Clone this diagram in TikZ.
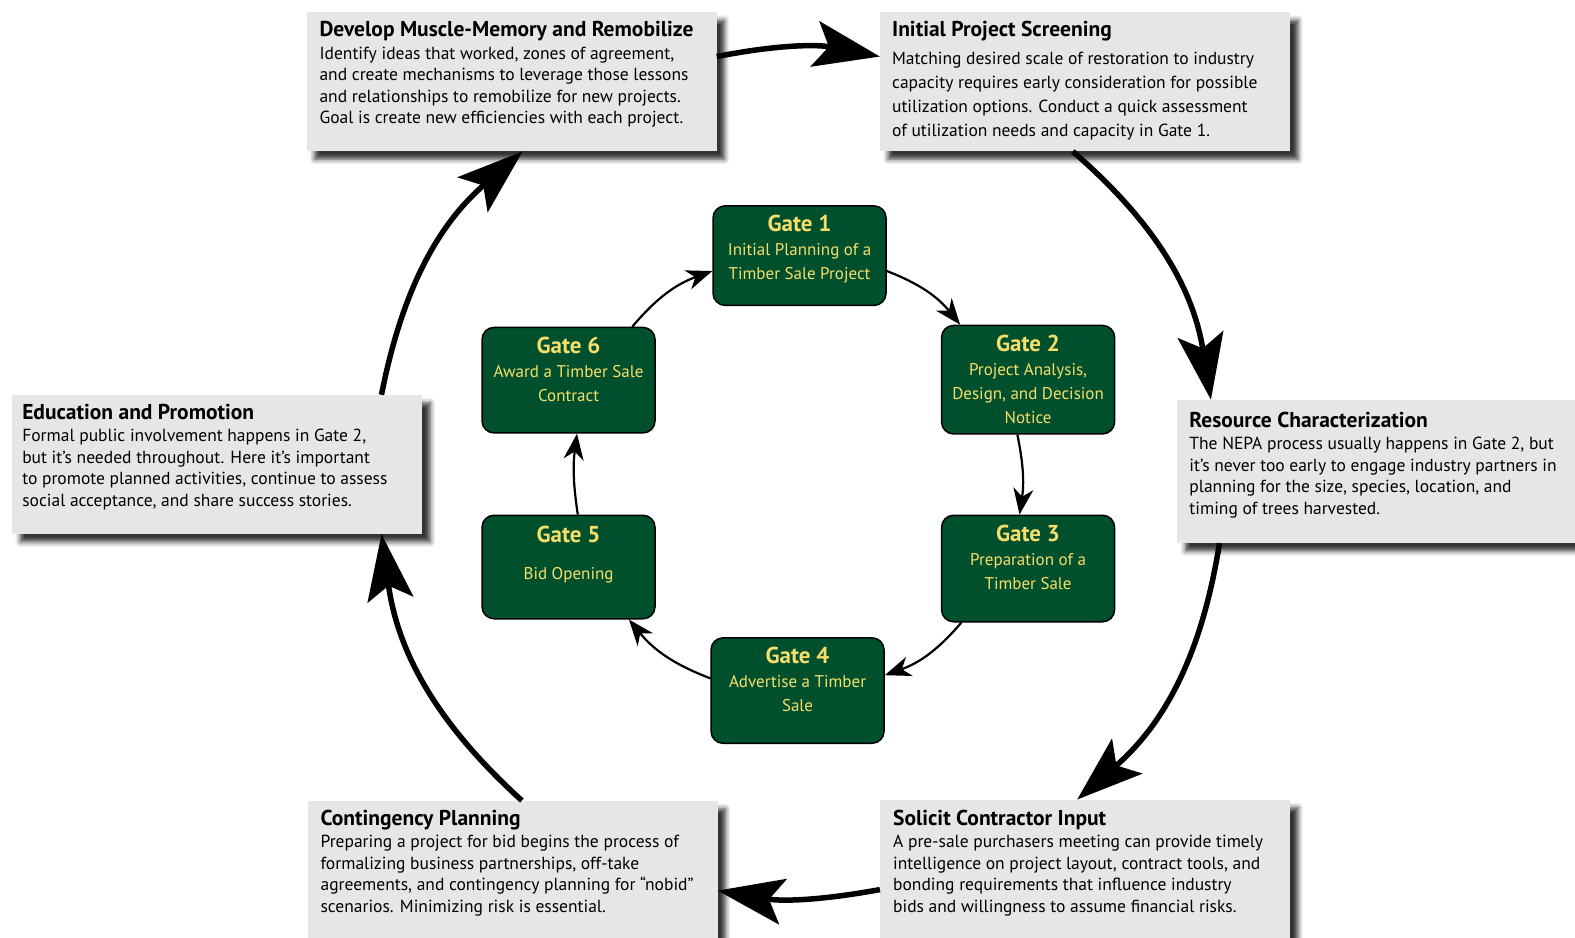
\documentclass[tikz,border=0pt]{standalone}
\usepackage{fontspec}
\setmainfont{PT Sans}
\usetikzlibrary{arrows.meta,positioning,shadows.blur}

\definecolor{gatefill}{RGB}{1,80,45}
\definecolor{gatetxt}{RGB}{246,222,106}
\definecolor{boxfill}{RGB}{230,230,230}

\newcommand{\boxtitle}[1]{{\fontsize{21.5}{22}\selectfont\bfseries #1}}
\newcommand{\gatetitle}[1]{{\fontsize{23}{24}\selectfont\bfseries #1}}

\tikzset{
  infobox/.style={rectangle, fill=boxfill, minimum width=410pt, minimum height=139pt,
    blur shadow={shadow xshift=8pt, shadow yshift=-8pt, shadow blur radius=5pt, shadow opacity=80}},
  infotext/.style={inner sep=0pt, align=left, font=\fontsize{17.5}{21.5}\selectfont},
  gatebox/.style={rectangle, rounded corners=12pt, draw=black, line width=1.5pt,
    fill=gatefill, minimum width=173pt},
  gatetext/.style={inner sep=0pt, align=center, text=gatetxt, font=\fontsize{17}{24}\selectfont},
  bigarrow/.style={line width=5.5pt, -{Stealth[length=66pt,width=46pt,inset=14pt]}},
  smallarrow/.style={line width=2.2pt, -{Stealth[length=26pt,width=20pt,inset=8pt]}},
}

\begin{document}
\begin{tikzpicture}[x=1.0045pt,y=1.0045pt]
  \useasboundingbox (0,4) rectangle (1568,937);

  % outer boxes
  \node[infobox, anchor=north west] (dev) at (305,925) {};
  \node[infobox, anchor=north west] (scr) at (876,925) {};
  \node[infobox, anchor=north west, minimum width=422pt, minimum height=143pt] (res) at (1172,539) {};
  \node[infobox, anchor=north west, minimum height=151pt] (sol) at (876,141) {};
  \node[infobox, anchor=north west, minimum height=151pt] (con) at (306,140) {};
  \node[infobox, anchor=north west] (edu) at (12,544) {};

  \node[infotext, below right=9pt and 13pt of dev.north west] {\boxtitle{Develop Muscle-Memory and Remobilize}\\[1pt]
    Identify ideas that worked, zones of agreement,\\
    and create mechanisms to leverage those lessons\\
    and relationships to remobilize for new projects.\\
    Goal is create new efficiencies with each project.};
  \node[infotext, font=\fontsize{17.5}{24}\selectfont, below right=9pt and 12pt of scr.north west] {\boxtitle{Initial Project Screening}\\[4pt]
    Matching desired scale of restoration to industry\\
    capacity requires early consideration for possible\\
    utilization options. Conduct a quick assessment\\
    of utilization needs and capacity in Gate 1.};
  \node[infotext, below right=12pt and 12pt of res.north west] {\boxtitle{Resource Characterization}\\[1pt]
    The NEPA process usually happens in Gate 2, but\\
    it’s never too early to engage industry partners in\\
    planning for the size, species, location, and\\
    timing of trees harvested.};
  \node[infotext, below right=10pt and 13pt of sol.north west] {\boxtitle{Solicit Contractor Input}\\[1pt]
    A pre-sale purchasers meeting can provide timely\\
    intelligence on project layout, contract tools, and\\
    bonding requirements that influence industry\\
    bids and willingness to assume financial risks.};
  \node[infotext, below right=9pt and 13pt of con.north west] {\boxtitle{Contingency Planning}\\[1pt]
    Preparing a project for bid begins the process of\\
    formalizing business partnerships, off-take\\
    agreements, and contingency planning for “nobid”\\
    scenarios. Minimizing risk is essential.};
  \node[infotext, below right=9pt and 10pt of edu.north west] {\boxtitle{Education and Promotion}\\[1pt]
    Formal public involvement happens in Gate 2,\\
    but it’s needed throughout. Here it’s important\\
    to promote planned activities, continue to assess\\
    social acceptance, and share success stories.};

  % gates
  \node[gatebox, minimum height=99.5pt] (g1) at (796,682.5) {};
  \node[gatebox, minimum height=108.5pt] (g2) at (1023.5,559) {};
  \node[gatebox, minimum height=106.5pt] (g3) at (1023.5,371) {};
  \node[gatebox, minimum height=105.5pt] (g4) at (794,249.5) {};
  \node[gatebox, minimum height=103.5pt] (g5) at (566,372.5) {};
  \node[gatebox, minimum height=105.5pt] (g6) at (566,558.5) {};

  \node[gatetext, below=10pt of g1.north] {\gatetitle{Gate 1}\\Initial Planning of a\\Timber Sale Project};
  \node[gatetext, below=10pt of g2.north] {\gatetitle{Gate 2}\\Project Analysis,\\Design, and Decision\\Notice};
  \node[gatetext, below=10pt of g3.north] {\gatetitle{Gate 3}\\Preparation of a\\Timber Sale};
  \node[gatetext, below=10pt of g4.north] {\gatetitle{Gate 4}\\Advertise a Timber\\Sale};
  \node[gatetext, below=11pt of g5.north] {\gatetitle{Gate 5}\\[13pt]Bid Opening};
  \node[gatetext, below=10pt of g6.north] {\gatetitle{Gate 6}\\Award a Timber Sale\\Contract};

  % outer cycle
  \draw[bigarrow] (dev.7) to[bend left=11] (scr.173);
  \draw[bigarrow] (scr.-100) to[bend left=20] (res.158);
  \draw[bigarrow] (res.-157) to[bend left=20] (sol.96);
  \draw[bigarrow] (sol.184) to[bend left=10] (con.-4);
  \draw[bigarrow] (con.83) to[bend left=20] (edu.-23);
  \draw[bigarrow] (edu.23) to[bend left=19] (dev.-81);

  % gate cycle
  \draw[smallarrow] (g1.-10) to[bend left=15] (g2.141);
  \draw[smallarrow] (g2.-101) to[bend left=10] (g3.99);
  \draw[smallarrow] (g3.-141) to[bend left=15] (g4.10);
  \draw[smallarrow] (g4.172) to[bend left=15] (g5.-41);
  \draw[smallarrow] (g5.80) to[bend left=8] (g6.-81);
  \draw[smallarrow] (g6.40) to[bend left=15] (g1.190);
\end{tikzpicture}
\end{document}
